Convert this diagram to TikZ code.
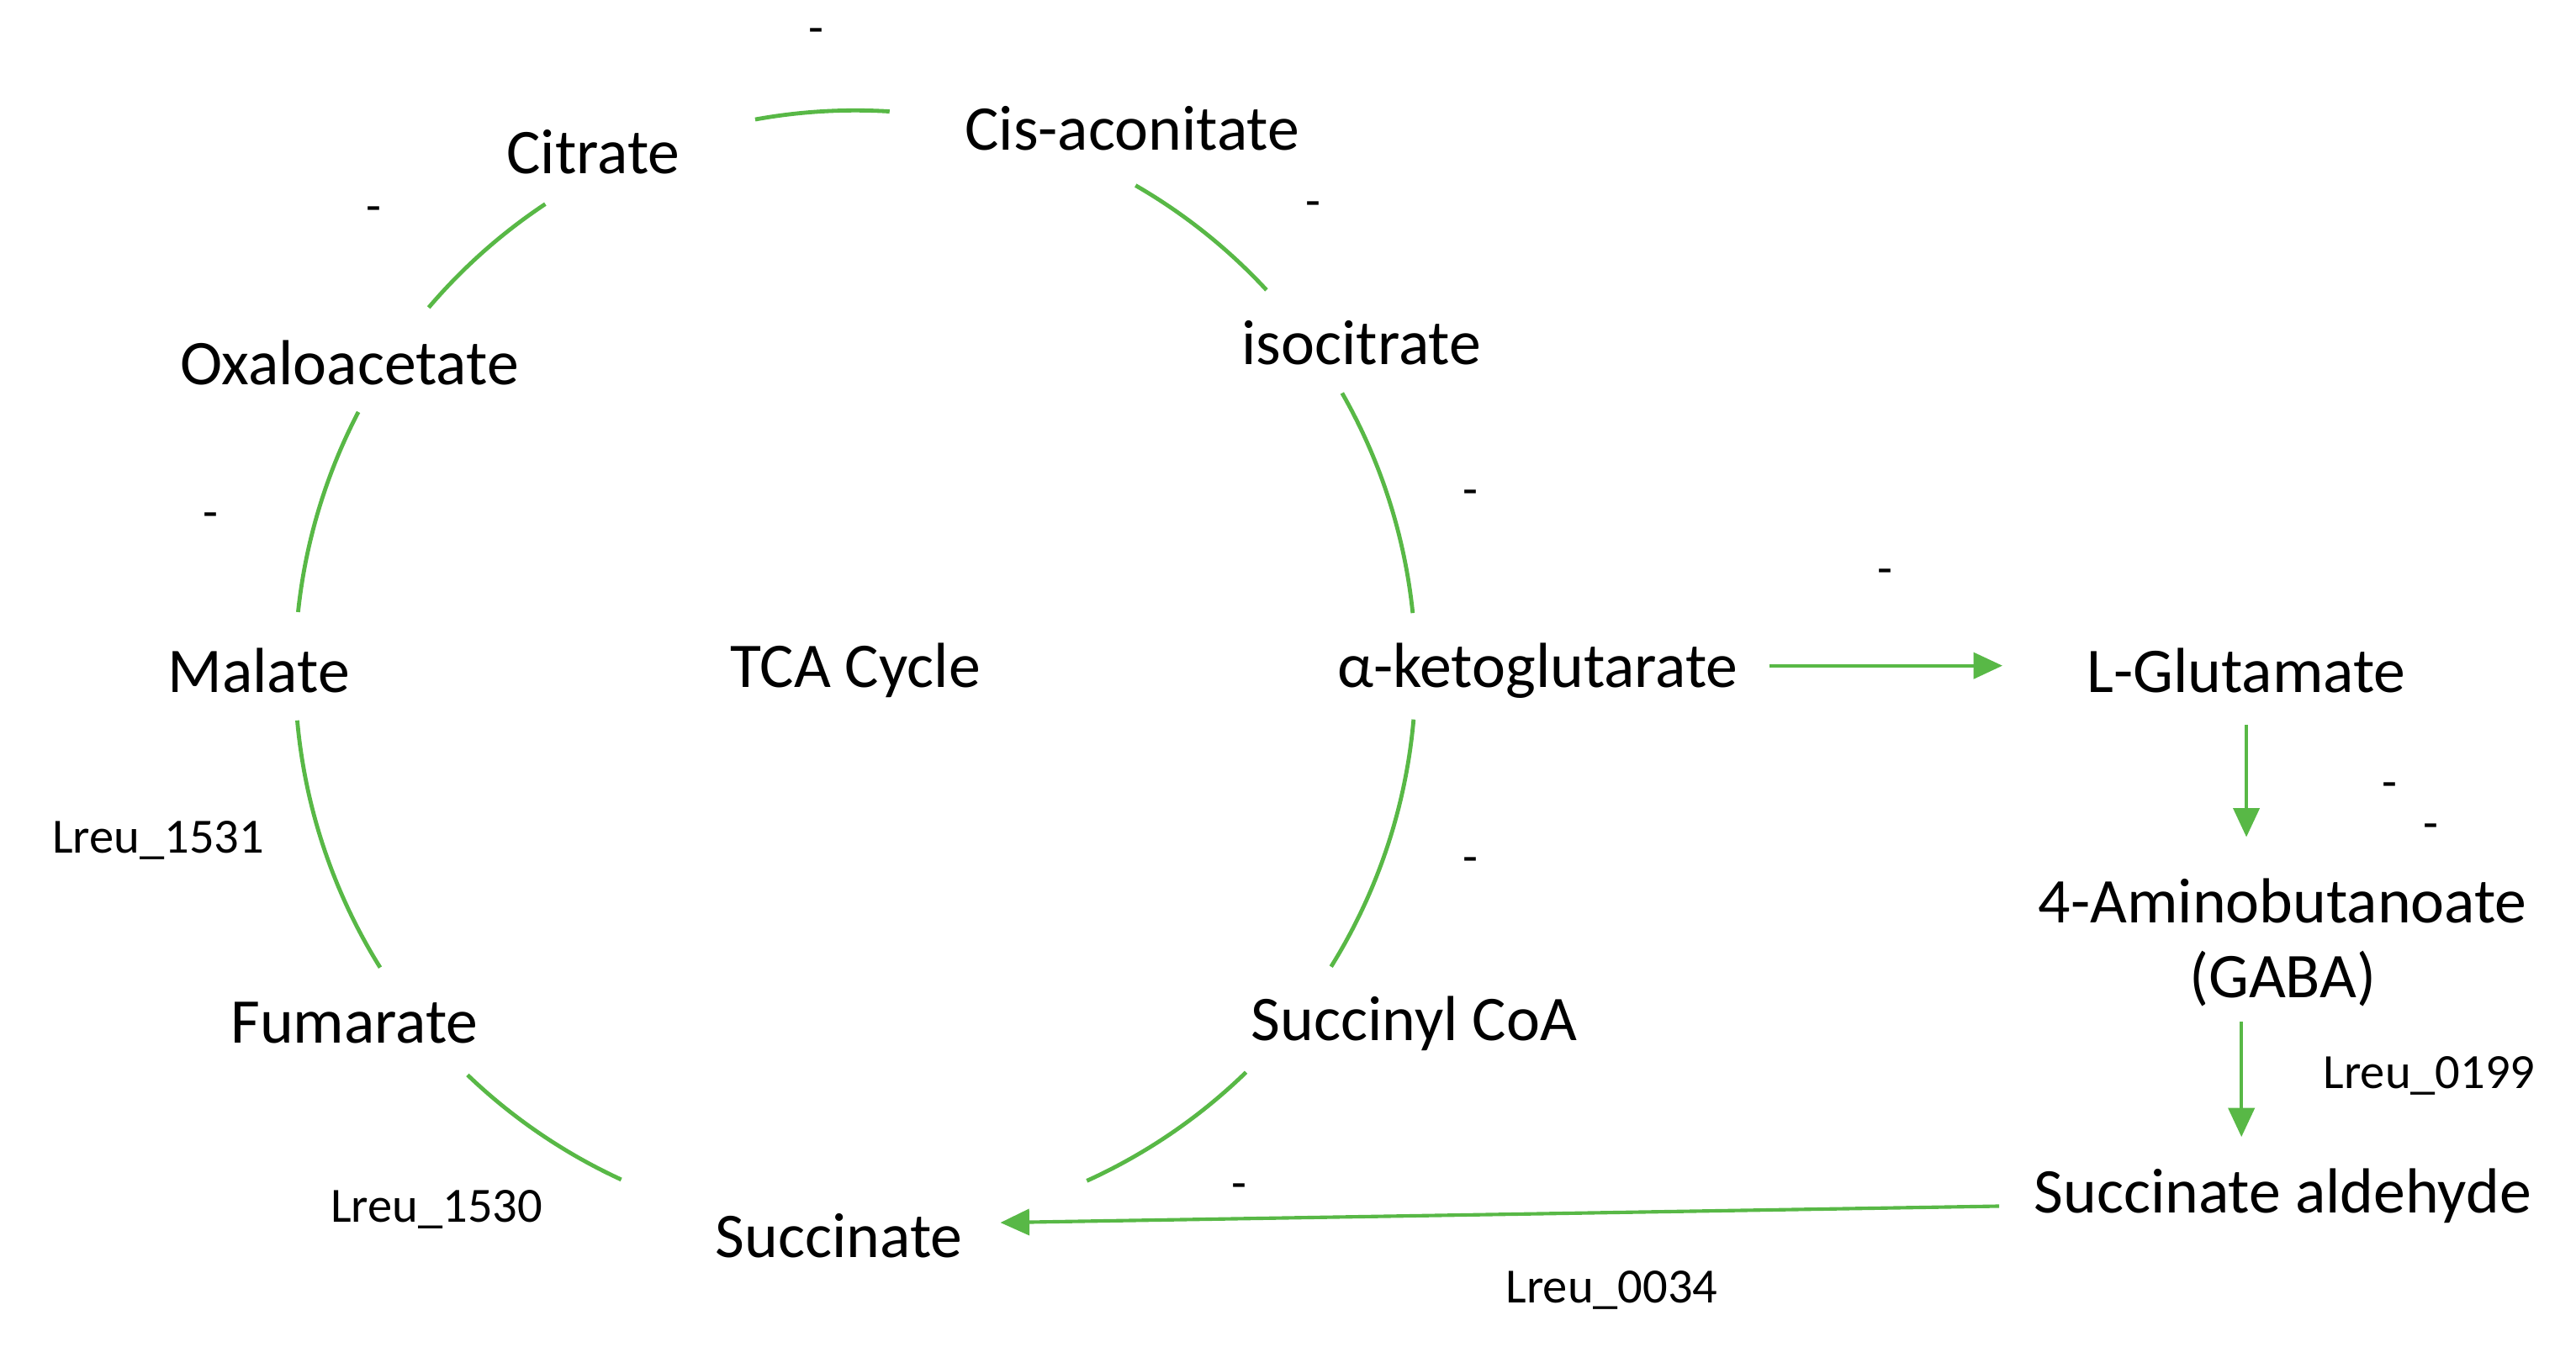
\documentclass[tikz,border=0pt]{standalone}
\usepackage{fontspec}
\setmainfont{Carlito}
\usetikzlibrary{arrows.meta}
\definecolor{grn}{RGB}{88,184,70}
\begin{document}
\begin{tikzpicture}[x=0.1mm,y=-0.1mm,
  met/.style={font=\fontsize{11}{13}\selectfont, align=center, inner sep=1pt},
  gene/.style={font=\fontsize{8.5}{10}\selectfont, inner sep=1pt},
  arc/.style={draw=grn, line width=0.7pt},
  flow/.style={draw=grn, line width=0.6pt, -{Triangle[length=5pt,width=4.5pt]}}]
\useasboundingbox (0,0) rectangle (1563,817);
\coordinate (c) at (519,407);
\node[met] (cit) at (360,92) {Citrate};
\node[met] (cis) at (687,78) {Cis-aconitate};
\node[met] (iso) at (826,208) {isocitrate};
\node[met] (oxa) at (212,220) {Oxaloacetate};
\node[met] (mal) at (157,407) {Malate};
\node[met] (tca) at (519,407) {TCA Cycle};
\node[met] (akg) at (933,407) {α-ketoglutarate};
\node[met] (glu) at (1363,407) {L-Glutamate};
\node[met] (gaba) at (1385,572) {4-Aminobutanoate\\(GABA)};
\node[met] (fum) at (215,621) {Fumarate};
\node[met] (sca) at (858,621) {Succinyl CoA};
\node[met] (suc) at (509,750) {Succinate};
\node[met] (sal) at (1385,726) {Succinate aldehyde};
\node[gene] (g1) at (96,510) {Lreu\_1531};
\node[gene] (g2) at (265,734) {Lreu\_1530};
\node[gene] (g3) at (978,783) {Lreu\_0034};
\node[gene] (g4) at (1474,653) {Lreu\_0199};
\foreach \p [count=\i] in {(495,22),(227,130),(797,127),(128,316),(892,302),(1144,350),(892,525),(1450,480),(1475,505),(752,723)}
  \node[gene] (d\i) at \p {-};
\foreach \a/\b in {100.3/86.5, 60/42.8, 29.7/5.9, -5/-31.9, -45.8/-65.6, -114.7/-133.8, -148/-174.9, 174/152.5, 139.6/123.6}
  \draw[arc] (c) ++(\a:3.4cm) arc[start angle=\a, end angle=\b, radius=3.4cm];
\draw[flow] (akg.east) ++(15,-3) coordinate (a1) (a1) -- (1215,404) coordinate (a2);
\draw[flow] (glu.south) ++(0,15) -- (1363,508);
\draw[flow] (1360,620) -- (1360,690);
\draw[flow] (1213,732) -- (607,742);
\end{tikzpicture}
\end{document}
